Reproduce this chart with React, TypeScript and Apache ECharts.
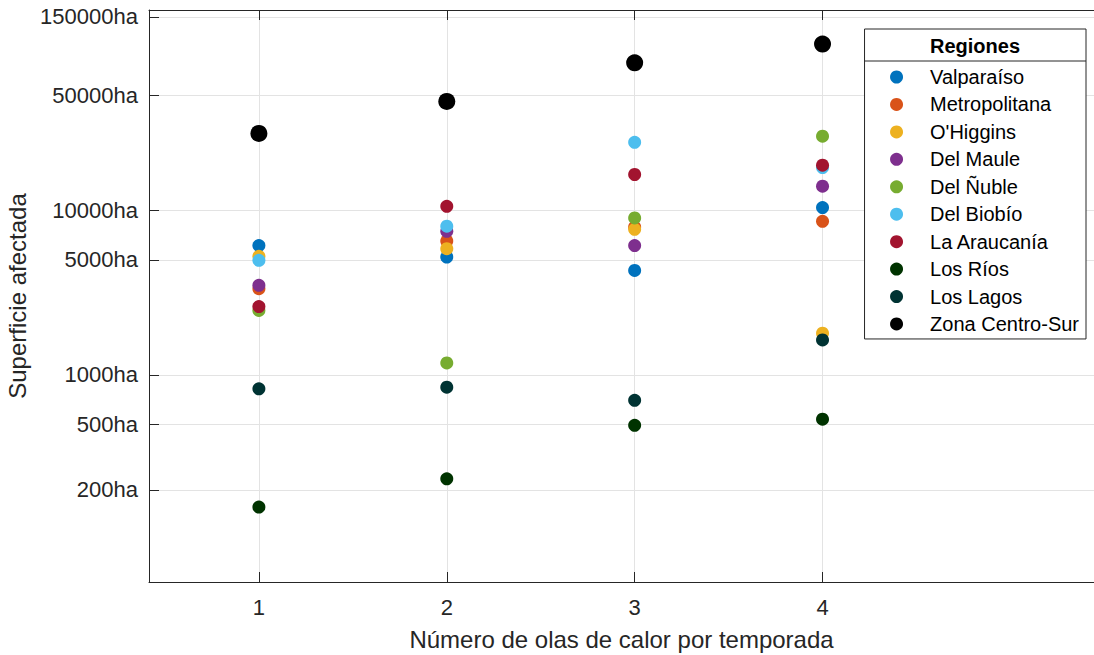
import React, { useEffect, useRef } from "react";
import * as echarts from "echarts";

// Heat-wave count per season (x) and burned area per region (ha, y)
const OLAS = [1, 2, 3, 4];

const REGIONES = [
  "Valparaíso",
  "Metropolitana",
  "O'Higgins",
  "Del Maule",
  "Del Ñuble",
  "Del Biobío",
  "La Araucanía",
  "Los Ríos",
  "Los Lagos",
  "Zona Centro-Sur",
];

const valparaiso = [6100, 5200, 4310, 10380];
const metropolitana = [3340, 6510, 7900, 8570];
const ohiggins = [5250, 5840, 7660, 1790];
const maule = [3500, 7450, 6100, 14000];
const nuble = [2460, 1180, 8980, 28200];
const biobio = [4960, 8000, 25900, 18200];
const araucania = [2600, 10570, 16500, 18800];
const losRios = [157, 233, 493, 537];
const losLagos = [822, 840, 700, 1630];
const zonaCentroSur = [29300, 45900, 78800, 102400];

const VALORES = [
  valparaiso,
  metropolitana,
  ohiggins,
  maule,
  nuble,
  biobio,
  araucania,
  losRios,
  losLagos,
  zonaCentroSur,
];

const COLORES = [
  "#0072BD",
  "#D95319",
  "#EDB120",
  "#7E2F8E",
  "#77AC30",
  "#4DBEEE",
  "#A2142F",
  "#003300",
  "#003333",
  "#000000",
];

const Y_TICKS = [200, 500, 1000, 5000, 10000, 50000, 150000];

const FONT = "Liberation Sans, Arial, Helvetica, sans-serif";
const INK = "#262626";
const GRID_LINE = "#e3e3e3";

export default function App() {
  const ref = useRef<HTMLDivElement>(null);

  useEffect(() => {
    if (!ref.current) return;
    const chart = echarts.init(ref.current, null, { renderer: "svg" });

    const series = REGIONES.map((name, k) => ({
      name,
      type: "scatter",
      symbol: "circle",
      symbolSize: k === REGIONES.length - 1 ? 17 : 13,
      itemStyle: { color: COLORES[k], opacity: 1 },
      data: OLAS.map((x, i) => [x, VALORES[k][i]]),
      z: 3,
    }));

    const xBase = {
      type: "value",
      min: 0.415,
      max: 5.445,
      axisLine: { show: true, lineStyle: { color: INK, width: 1 } },
      axisTick: {
        show: true,
        inside: true,
        length: 10,
        customValues: OLAS,
        lineStyle: { color: INK },
      },
    };

    chart.setOption({
      animation: false,
      backgroundColor: "#ffffff",
      textStyle: { fontFamily: FONT },
      grid: {
        left: 149,
        top: 10,
        right: 0,
        bottom: 73,
        containLabel: false,
        outerBoundsMode: "none",
      },
      xAxis: [
        {
          ...xBase,
          position: "bottom",
          name: "Número de olas de calor por temporada",
          nameLocation: "middle",
          nameGap: 45,
          nameTextStyle: { fontSize: 24, color: INK, fontFamily: FONT },
          axisLabel: {
            customValues: OLAS,
            fontSize: 22,
            color: INK,
            margin: 14,
            fontFamily: FONT,
          },
          splitLine: { show: true, lineStyle: { color: GRID_LINE, width: 1 } },
        },
        {
          ...xBase,
          position: "top",
          axisLabel: { show: false },
          splitLine: { show: false },
        },
      ],
      yAxis: {
        type: "log",
        logBase: 10,
        min: 55,
        max: 165000,
        name: "Superficie afectada",
        nameLocation: "middle",
        nameGap: 116,
        nameTextStyle: { fontSize: 24, color: INK, fontFamily: FONT },
        axisLine: { show: true, lineStyle: { color: INK, width: 1 } },
        axisTick: {
          show: true,
          inside: true,
          length: 10,
          customValues: Y_TICKS,
          lineStyle: { color: INK },
        },
        minorTick: { show: false },
        axisLabel: {
          customValues: Y_TICKS,
          fontSize: 22,
          color: INK,
          margin: 11,
          fontFamily: FONT,
          formatter: (v: number) => `${Math.round(v)}ha`,
        },
        splitLine: { show: true, lineStyle: { color: GRID_LINE, width: 1 } },
      },
      legend: {
        orient: "vertical",
        right: 8,
        top: 29,
        padding: [38, 7, 5, 25.5],
        itemWidth: 13,
        itemHeight: 13,
        itemGap: 7.44,
        borderColor: INK,
        borderWidth: 1,
        backgroundColor: "#ffffff",
        data: REGIONES,
        textStyle: {
          fontSize: 20,
          lineHeight: 20,
          color: "#000000",
          fontFamily: FONT,
          padding: [0, 0, 0, 22],
        },
      },
      graphic: [
        {
          type: "text",
          x: 975,
          y: 46,
          z: 100,
          style: {
            text: "Regiones",
            fontSize: 20,
            fontWeight: "bold",
            fontFamily: FONT,
            fill: "#000000",
            align: "center",
            verticalAlign: "middle",
          },
        },
        {
          type: "line",
          z: 100,
          shape: { x1: 864, y1: 61, x2: 1086, y2: 61 },
          style: { stroke: INK, lineWidth: 1 },
        },
      ],
      series,
    });

    return () => chart.dispose();
  }, []);

  return (
    <div
      ref={ref}
      style={{ position: "absolute", left: 0, top: 0, width: 1094, height: 655 }}
    />
  );
}
